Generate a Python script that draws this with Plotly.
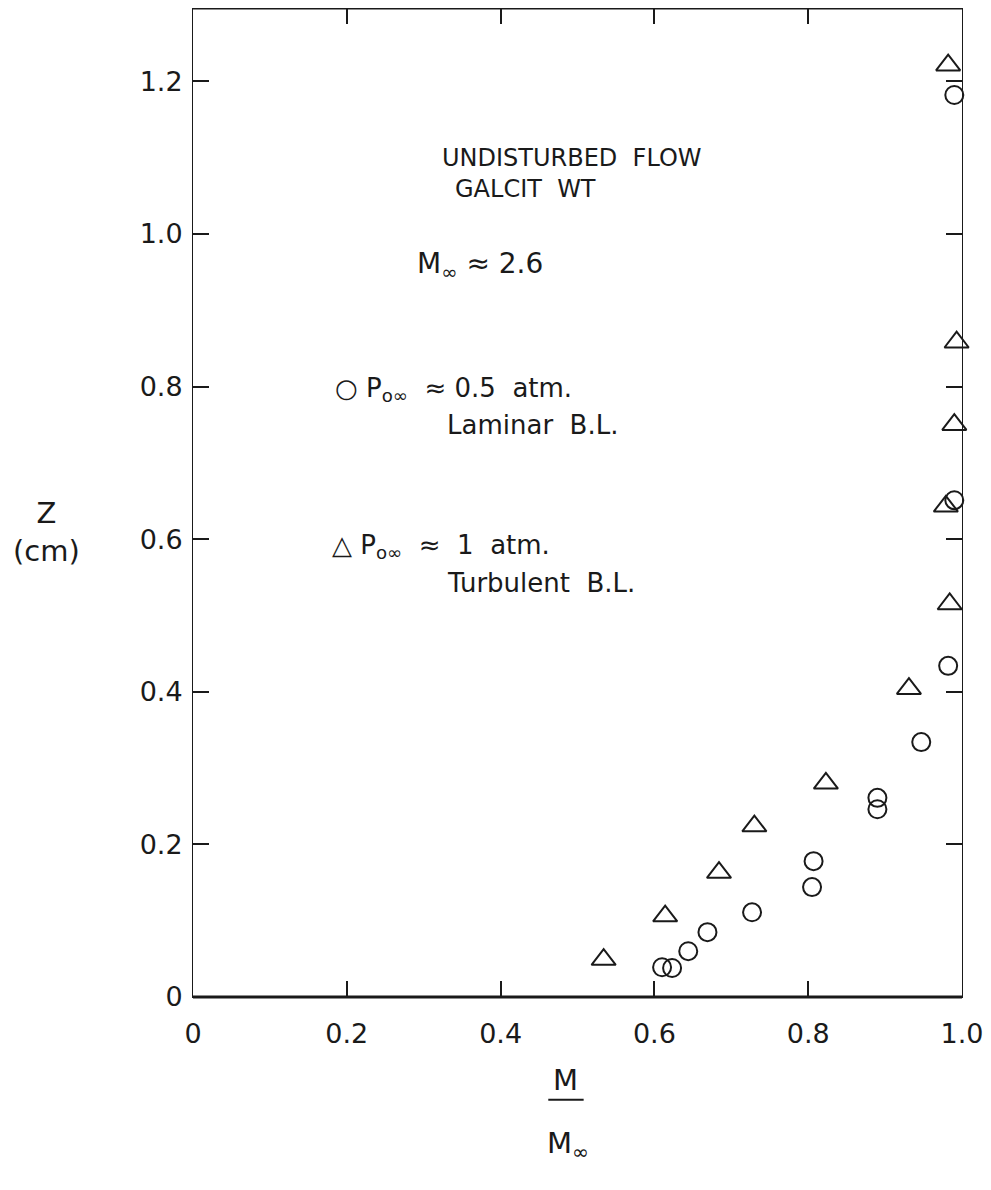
import plotly.graph_objects as go

# Laminar B.L. (circles), P0 ~ 0.5 atm
lam_x = [0.610, 0.623, 0.644, 0.669, 0.727, 0.805, 0.807, 0.890, 0.890, 0.947, 0.982, 0.990, 0.990]
lam_z = [0.039, 0.038, 0.060, 0.085, 0.111, 0.144, 0.178, 0.246, 0.261, 0.334, 0.434, 0.651, 1.182]

# Turbulent B.L. (triangles), P0 ~ 1 atm
tur_x = [0.534, 0.614, 0.684, 0.730, 0.823, 0.931, 0.984, 0.979, 0.990, 0.993, 0.982]
tur_z = [0.049, 0.106, 0.163, 0.224, 0.280, 0.404, 0.515, 0.643, 0.750, 0.858, 1.221]

x_ticks = [0, 0.2, 0.4, 0.6, 0.8, 1.0]
x_labels = ["0", "0.2", "0.4", "0.6", "0.8", "1.0"]
y_ticks = [0, 0.2, 0.4, 0.6, 0.8, 1.0, 1.2]
y_labels = ["0", "0.2", "0.4", "0.6", "0.8", "1.0", "1.2"]

FONT = "DejaVu Sans"
INK = "#1a1a1a"

fig = go.Figure()
fig.add_trace(go.Scatter(
    x=lam_x, y=lam_z, mode="markers",
    marker=dict(symbol="circle-open", size=18, color=INK, line=dict(width=2, color=INK)),
    showlegend=False, cliponaxis=False))
fig.add_trace(go.Scatter(
    x=tur_x, y=tur_z, mode="markers",
    marker=dict(symbol="triangle-up-open", size=21, color=INK, line=dict(width=2, color=INK)),
    showlegend=False, cliponaxis=False))

fig.update_xaxes(range=[0, 1.0], tickvals=x_ticks, ticktext=x_labels,
                 ticks="inside", ticklen=16, tickwidth=1.5, tickcolor=INK,
                 showline=True, linecolor=INK, linewidth=1, mirror="ticks",
                 showgrid=False, zeroline=False, ticklabelstandoff=13,
                 tickfont=dict(family=FONT, size=27, color=INK))
fig.update_yaxes(range=[0, 1.296], tickvals=y_ticks, ticktext=y_labels,
                 ticks="inside", ticklen=16, tickwidth=1.5, tickcolor=INK,
                 showline=True, linecolor=INK, linewidth=1, mirror="ticks",
                 showgrid=False, zeroline=False, ticklabelstandoff=4,
                 tickfont=dict(family=FONT, size=27, color=INK))

# thick top and bottom borders
fig.add_shape(type="line", xref="paper", yref="paper", x0=0, x1=1, y0=0, y1=0,
              line=dict(color=INK, width=3))
fig.add_shape(type="line", xref="paper", yref="paper", x0=0, x1=1, y0=1, y1=1,
              line=dict(color=INK, width=3))

ann = []
def T(x, y, text, size=26, xanchor="left"):
    ann.append(dict(x=x, y=y, xref="x", yref="y",
                    text=text, showarrow=False, xanchor=xanchor, yanchor="middle",
                    font=dict(family=FONT, size=size, color=INK)))

# In-plot text (data coordinates)
T(0.493, 1.099, "UNDISTURBED  FLOW", 24, "center")
T(0.432, 1.059, "GALCIT  WT", 24, "center")
T(0.289, 0.959, "M<sub>∞</sub> ≈ 2.6", 28, "left")
T(0.182, 0.796, "○ P<sub>o∞</sub>  ≈ 0.5  atm.", 26, "left")
T(0.328, 0.750, "Laminar  B.L.", 26, "left")
T(0.178, 0.590, "△ P<sub>o∞</sub>  ≈  1  atm.", 26, "left")
T(0.328, 0.543, "Turbulent  B.L.", 26, "left")

fig.update_layout(annotations=ann)

# axis titles (paper coords, outside plot)
fig.add_annotation(x=-0.19, y=0.47, xref="paper", yref="paper", text="Z<br>(cm)",
                   showarrow=False, xanchor="center", yanchor="middle", align="center",
                   font=dict(family=FONT, size=29, color=INK))
fig.add_annotation(x=0.485, y=-0.084, xref="paper", yref="paper", text="M",
                   showarrow=False, xanchor="center", yanchor="middle",
                   font=dict(family=FONT, size=29, color=INK))
fig.add_annotation(x=0.488, y=-0.1496, xref="paper", yref="paper", text="M<sub>∞</sub>",
                   showarrow=False, xanchor="center", yanchor="middle",
                   font=dict(family=FONT, size=29, color=INK))
fig.add_shape(type="line", xref="paper", yref="paper", x0=0.462, x1=0.508,
              y0=-0.104, y1=-0.104, line=dict(color=INK, width=2))

fig.update_layout(
    width=983, height=1182,
    margin=dict(l=185, r=29, t=0, b=193),
    paper_bgcolor="white", plot_bgcolor="white",
    font=dict(family=FONT, color=INK),
)

fig.write_html("out.html")
